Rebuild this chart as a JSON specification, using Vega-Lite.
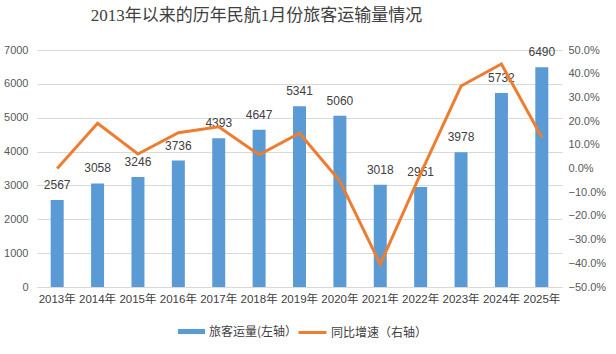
{
  "$schema": "https://vega.github.io/schema/vega-lite/v6.json",
  "autosize": {"type": "none"},
  "width": 525,
  "height": 237,
  "padding": {"left": 37, "top": 50, "right": 54, "bottom": 67},
  "background": "white",
  "config": {
    "view": {"stroke": null},
    "font": "Liberation Sans, Noto Sans CJK SC",
    "axis": {"labelFont": "Liberation Sans, Noto Sans CJK SC", "labelColor": "#595959", "labelFontSize": 11, "ticks": false, "domain": false, "gridColor": "#D9D9D9", "title": null, "labelOverlap": false},
    "legend": {"labelFont": "Noto Sans CJK SC", "labelFontSize": 12, "labelColor": "#404040", "title": null}
  },
  "title": {
    "text": "2013年以来的历年民航1月份旅客运输量情况",
    "font": "Liberation Serif, Noto Sans CJK SC",
    "fontSize": 17,
    "fontWeight": "normal",
    "color": "#404040",
    "anchor": "middle",
    "dx": -43,
    "offset": 19
  },
  "data": {
    "values": [
      {"year": "2013年", "pax": 2567, "growth": 0.0},
      {"year": "2014年", "pax": 3058, "growth": 0.191},
      {"year": "2015年", "pax": 3246, "growth": 0.061},
      {"year": "2016年", "pax": 3736, "growth": 0.151},
      {"year": "2017年", "pax": 4393, "growth": 0.176},
      {"year": "2018年", "pax": 4647, "growth": 0.058},
      {"year": "2019年", "pax": 5341, "growth": 0.149},
      {"year": "2020年", "pax": 5060, "growth": -0.053},
      {"year": "2021年", "pax": 3018, "growth": -0.404},
      {"year": "2022年", "pax": 2951, "growth": -0.022},
      {"year": "2023年", "pax": 3978, "growth": 0.348},
      {"year": "2024年", "pax": 5732, "growth": 0.441},
      {"year": "2025年", "pax": 6490, "growth": 0.132}
    ]
  },
  "encoding": {
    "x": {
      "field": "year",
      "type": "nominal",
      "sort": null,
      "scale": {"paddingInner": 0, "paddingOuter": 0},
      "axis": {"labelAngle": 0, "domain": true, "domainColor": "#D9D9D9", "labelPadding": 6, "labelColor": "#404040", "labelFontSize": 11.5}
    }
  },
  "layer": [
    {
      "encoding": {
        "y": {"field": "pax", "type": "quantitative", "scale": {"domain": [0, 7000], "nice": false}, "axis": {"values": [0, 1000, 2000, 3000, 4000, 5000, 6000, 7000], "format": "d", "grid": true, "labelPadding": 9}}
      },
      "layer": [
        {
          "mark": {"type": "bar", "width": 13},
          "encoding": {
            "fill": {"datum": "旅客运量(左轴）", "scale": {"range": ["#5B9BD5"]}, "legend": {"orient": "none", "legendX": 140, "legendY": 267, "symbolType": "M-1,-0.19H1V0.19H-1Z", "symbolSize": 729, "labelOffset": 3}}
          }
        },
        {
          "mark": {"type": "text", "baseline": "bottom", "dy": -8, "fontSize": 12, "color": "#404040", "font": "Liberation Sans"},
          "encoding": {
            "text": {"field": "pax", "type": "quantitative", "format": "d"}
          }
        }
      ]
    },
    {
      "mark": {"type": "line", "strokeWidth": 3},
      "encoding": {
        "y": {"field": "growth", "type": "quantitative", "scale": {"domain": [-0.5, 0.5]}, "axis": {"orient": "right", "format": ".1%", "values": [-0.5, -0.4, -0.3, -0.2, -0.1, 0, 0.1, 0.2, 0.3, 0.4, 0.5], "grid": false, "labelPadding": 6}},
        "stroke": {"datum": "同比增速（右轴）", "scale": {"range": ["#ED7D31"]}, "legend": {"orient": "none", "legendX": 260, "legendY": 267, "symbolType": "stroke", "symbolSize": 784, "symbolStrokeWidth": 3, "labelOffset": 3}}
      }
    }
  ],
  "resolve": {"scale": {"y": "independent"}}
}
